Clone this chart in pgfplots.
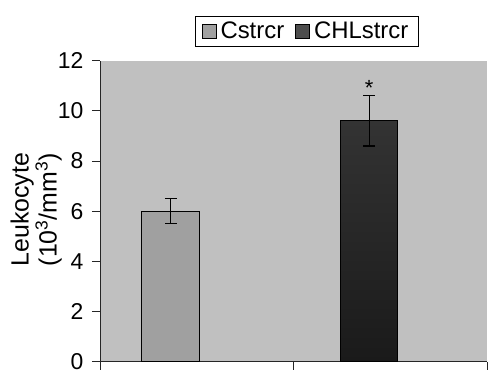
\documentclass[border=0pt]{standalone}
\usepackage{pgfplots}
\pgfplotsset{compat=1.18}
\usepackage{fontspec}
\setmainfont{Liberation Sans}
\definecolor{bg}{HTML}{C0C0C0}
\definecolor{barA}{HTML}{A0A0A0}
\definecolor{barBt}{HTML}{333333}
\definecolor{barBb}{HTML}{1A1A1A}
\definecolor{legB}{HTML}{4D4D4D}
\begin{document}
\begin{tikzpicture}
\begin{axis}[
  scale only axis, width=387bp, height=301bp,
  xmin=0, xmax=2, ymin=0, ymax=12,
  ytick={0,2,...,12},
  xtick={0,1,2}, xticklabels={},
  axis x line*=bottom, axis y line*=left,
  axis line style={line width=0.9pt, black!85, -},
  tick align=outside,
  tick style={line width=0.9pt, black!85},
  major tick length=8bp,
  axis background/.style={fill=bg},
  ticklabel style={font=\fontsize{23}{25}\selectfont},
  yticklabel style={xshift=-5bp},
  /pgf/number format/assume math mode=true,
  ylabel={Leukocyte\\(10\textsuperscript{3}/mm\textsuperscript{3})},
  ylabel style={align=center, font=\fontsize{25}{28}\selectfont,
    at={(axis description cs:-0.165,0.505)}, anchor=center},
  legend image code/.code={\draw[#1, line width=0.8pt] (0bp,-7bp) rectangle (14bp,7bp);},
  legend style={at={(axis description cs:0.535,1)}, anchor=south, yshift=14bp,
    draw=black, line width=0.8pt, fill=white, font=\fontsize{24}{26}\selectfont,
    inner xsep=6bp, inner ysep=4bp, nodes={inner xsep=4bp}},
  legend columns=2,
  legend cell align=left,
  /tikz/every even column/.append style={column sep=7bp},
]
\addplot[ybar, bar width=58bp, bar shift=0pt, fill=barA, draw=black, line width=1.2pt, forget plot,
  error bars/.cd, y dir=both, y explicit,
  error bar style={line width=1.2pt, black},
  error mark options={rotate=90, mark size=6bp, line width=1.2pt, black}]
  coordinates {(0.366,6.0) +- (0,0.5)};
\addplot[ybar, bar width=57bp, bar shift=0pt, top color=barBt, bottom color=barBb, draw=black, line width=1.2pt, forget plot,
  error bars/.cd, y dir=both, y explicit,
  error bar style={line width=1.2pt, black},
  error mark options={rotate=90, mark size=6bp, line width=1.2pt, black}]
  coordinates {(1.391,9.6) +- (0,1.0)};
\node[anchor=base, font=\fontsize{22}{24}\selectfont, inner sep=0pt] at (axis cs:1.391,10.62) {*};
\addlegendimage{fill=barA, draw=black}
\addlegendentry{Cstrcr}
\addlegendimage{fill=legB, draw=black}
\addlegendentry{CHLstrcr}
\end{axis}
\pgfresetboundingbox
\path ([shift={(-100bp,-8.3bp)}]current axis.south west) rectangle ([shift={(2bp,60.7bp)}]current axis.north east);
\end{tikzpicture}
\end{document}
